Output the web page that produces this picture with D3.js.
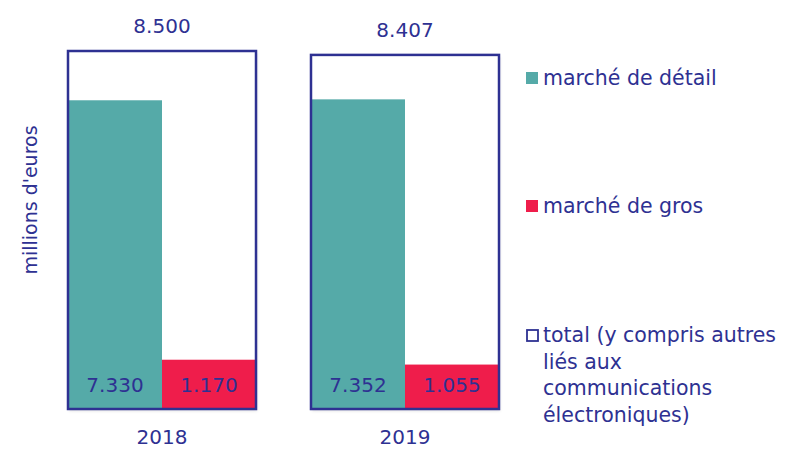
<!DOCTYPE html>
<html>
<head>
<meta charset="utf-8">
<script src="https://cdn.jsdelivr.net/npm/d3@7"></script>
<style>
  body { margin: 0; background: #fff; }
  text { font-family: "DejaVu Sans", Verdana, sans-serif; fill: #2e3192; }
</style>
</head>
<body>
<div id="chart"></div>
<script>
// data
var years = ["2018", "2019"];
var retail = [7330, 7352];
var wholesale = [1170, 1055];
var totals = [8500, 8407];
var seriesNames = ["marché de détail", "marché de gros"];
var totalLabel = ["total (y compris autres", "liés aux", "communications", "électroniques)"];

var colorRetail = "#55aaa8";
var colorWholesale = "#ef1d4b";
var colorNavy = "#2e3192";

var fmt = function (v) {
    return d3.format(",")(v).replace(/,/g, ".");
};

var width = 785, height = 450;

var svg = d3.select("#chart").append("svg")
    .attr("width", width)
    .attr("height", height);

var defs = svg.append("defs");
defs.append("filter")
    .attr("id", "shadow")
    .attr("x", "-5%").attr("y", "-5%").attr("width", "115%").attr("height", "115%")
    .append("feDropShadow")
    .attr("dx", 1).attr("dy", 2).attr("stdDeviation", 1.5)
    .attr("flood-color", "#000").attr("flood-opacity", 0.12);

var x = d3.scaleBand()
    .domain(years)
    .range([68, 499])
    .paddingInner(0.2263)
    .paddingOuter(0);

var xInner = d3.scaleBand()
    .domain(["retail", "wholesale"])
    .range([0, x.bandwidth()]);

var y = d3.scaleLinear()
    .domain([0, 8500])
    .range([409, 51]);

var rows = years.map(function (yr, i) {
    return {year: yr, retail: retail[i], wholesale: wholesale[i], total: totals[i]};
});

var groups = svg.selectAll(".year-group")
    .data(rows)
    .enter().append("g")
    .attr("class", "year-group")
    .attr("transform", function (d) { return "translate(" + x(d.year) + ",0)"; });

// white total box with shadow (background)
groups.append("rect")
    .attr("x", 0)
    .attr("y", function (d) { return y(d.total); })
    .attr("width", x.bandwidth())
    .attr("height", function (d) { return y(0) - y(d.total); })
    .attr("fill", "#fff")
    .attr("filter", "url(#shadow)");

// retail bars
groups.append("rect")
    .attr("x", xInner("retail"))
    .attr("y", function (d) { return y(d.retail); })
    .attr("width", xInner.bandwidth())
    .attr("height", function (d) { return y(0) - y(d.retail); })
    .attr("fill", colorRetail);

// wholesale bars
groups.append("rect")
    .attr("x", xInner("wholesale"))
    .attr("y", function (d) { return y(d.wholesale); })
    .attr("width", xInner.bandwidth())
    .attr("height", function (d) { return y(0) - y(d.wholesale); })
    .attr("fill", colorWholesale);

// total outline
groups.append("rect")
    .attr("x", 0)
    .attr("y", function (d) { return y(d.total); })
    .attr("width", x.bandwidth())
    .attr("height", function (d) { return y(0) - y(d.total); })
    .attr("fill", "none")
    .attr("stroke", colorNavy)
    .attr("stroke-width", 2.5);

// value labels
groups.append("text")
    .attr("x", xInner("retail") + xInner.bandwidth() / 2)
    .attr("y", 392)
    .attr("text-anchor", "middle")
    .style("font-size", "20px")
    .text(function (d) { return fmt(d.retail); });

groups.append("text")
    .attr("x", xInner("wholesale") + xInner.bandwidth() / 2)
    .attr("y", 392)
    .attr("text-anchor", "middle")
    .style("font-size", "20px")
    .text(function (d) { return fmt(d.wholesale); });

groups.append("text")
    .attr("x", x.bandwidth() / 2)
    .attr("y", function (d) { return y(d.total) - 18; })
    .attr("text-anchor", "middle")
    .style("font-size", "20px")
    .text(function (d) { return fmt(d.total); });

// year labels
groups.append("text")
    .attr("x", x.bandwidth() / 2)
    .attr("y", 444)
    .attr("text-anchor", "middle")
    .style("font-size", "20px")
    .text(function (d) { return d.year; });

// y axis title
svg.append("text")
    .attr("transform", "translate(37,200) rotate(-90)")
    .attr("text-anchor", "middle")
    .style("font-size", "19px")
    .text("millions d'euros");

// legend
var legend = svg.append("g").attr("transform", "translate(526,0)");

legend.append("rect")
    .attr("x", 0).attr("y", 72).attr("width", 12).attr("height", 12)
    .attr("fill", colorRetail);
legend.append("text")
    .attr("x", 17).attr("y", 85)
    .style("font-size", "20.5px")
    .text(seriesNames[0]);

legend.append("rect")
    .attr("x", 0).attr("y", 200).attr("width", 12).attr("height", 12)
    .attr("fill", colorWholesale);
legend.append("text")
    .attr("x", 17).attr("y", 213)
    .style("font-size", "20.5px")
    .text(seriesNames[1]);

legend.append("rect")
    .attr("x", 1).attr("y", 330).attr("width", 11).attr("height", 11)
    .attr("fill", "none")
    .attr("stroke", colorNavy)
    .attr("stroke-width", 1.8);

legend.append("text")
    .attr("x", 17).attr("y", 342)
    .style("font-size", "20.5px")
    .selectAll("tspan")
    .data(totalLabel)
    .enter().append("tspan")
    .attr("x", 17)
    .attr("dy", function (d, i) { return i === 0 ? 0 : 26.5; })
    .text(function (d) { return d; });
</script>
</body>
</html>
